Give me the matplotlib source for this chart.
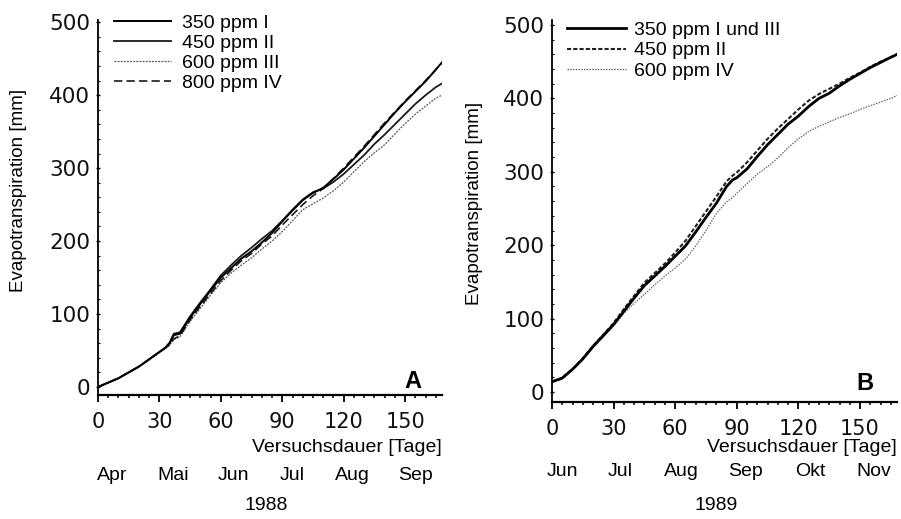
import numpy as np
import matplotlib
matplotlib.use("Agg")
import matplotlib.pyplot as plt
from matplotlib.ticker import MultipleLocator
from matplotlib.font_manager import FontProperties
import matplotlib.transforms as mtransforms

# --- data ---
days_a = [0, 5, 10, 15, 20, 25, 30, 33, 35, 37, 40, 45, 50, 55, 60, 65, 70, 75, 80,
          85, 90, 95, 100, 105, 110, 115, 120, 125, 130, 135, 140, 145, 150, 155,
          160, 165, 168]
a_350 = [0, 6, 12, 20, 28, 38, 48, 54, 60, 71, 73, 95, 114, 132, 150, 163, 176, 186, 198,
         211, 227, 242, 256, 266, 273, 285, 298, 313, 328, 344, 360, 376, 391, 405,
         419, 435, 445]
a_450 = [0, 6, 12, 20, 28, 38, 48, 54, 61, 73, 75, 97, 116, 134, 153, 167, 180, 191, 203,
         214, 228, 243, 257, 267, 272, 281, 292, 305, 318, 333, 346, 360, 374, 388,
         400, 411, 416]
a_600 = [0, 6, 12, 20, 28, 37, 47, 53, 57, 65, 69, 90, 108, 126, 143, 156, 167, 177, 189,
         200, 213, 228, 243, 251, 259, 269, 281, 295, 309, 321, 332, 347, 361, 374,
         385, 396, 400]
a_800 = [0, 6, 12, 20, 28, 38, 48, 54, 58, 66, 70, 92, 111, 128, 146, 160, 173, 183, 196,
         207, 222, 236, 250, 262, 272, 286, 300, 315, 330, 346, 362, 377, 392, 406,
         420, 435, 444]

days_b = [0, 5, 10, 15, 20, 25, 30, 35, 40, 45, 50, 55, 60, 65, 70, 75, 80, 85, 88, 90,
          95, 100, 105, 110, 115, 120, 125, 130, 135, 140, 145, 150, 155, 160, 165, 168]
b_350 = [14, 19, 31, 45, 62, 77, 92, 110, 128, 145, 158, 171, 185, 199, 218, 238, 257, 280,
         289, 292, 304, 321, 337, 351, 365, 376, 389, 400, 407, 417, 426, 434, 442, 449,
         456, 460]
b_450 = [14, 19, 31, 46, 63, 78, 94, 113, 131, 149, 162, 175, 190, 206, 226, 246, 266, 287,
         295, 299, 313, 329, 345, 359, 372, 385, 397, 406, 413, 420, 428, 435, 443, 450,
         456, 460]
b_600 = [14, 19, 31, 45, 61, 75, 90, 107, 121, 133, 146, 158, 169, 181, 199, 220, 243, 259,
         265, 271, 284, 297, 307, 319, 333, 345, 355, 362, 368, 374, 379, 385, 390, 395,
         400, 404]

months_a = ["Apr", "Mai", "Jun", "Jul", "Aug", "Sep"]
month_pos_a = [7, 36.5, 66, 95, 124, 155]
months_b = ["Jun", "Jul", "Aug", "Sep", "Okt", "Nov"]
month_pos_b = [5, 33, 63, 94, 126, 156.5]

W, H = 901, 519
TXT = "Liberation Sans"
legend_font = FontProperties(family=TXT, size=14)


def box(x0, y0, x1, y1):
    # pixel box (top-left origin) -> figure fraction rect
    return [x0 / W, 1 - y1 / H, (x1 - x0) / W, (y1 - y0) / H]


def style_axes(ax, ylim):
    ax.set_xlim(0, 168)
    ax.set_ylim(*ylim)
    for s in ["top", "right"]:
        ax.spines[s].set_visible(False)
    ax.spines["left"].set_linewidth(1.3)
    ax.spines["bottom"].set_linewidth(1.6)
    ax.xaxis.set_major_locator(MultipleLocator(30))
    ax.xaxis.set_minor_locator(MultipleLocator(5))
    ax.yaxis.set_major_locator(MultipleLocator(100))
    ax.yaxis.set_minor_locator(MultipleLocator(20))
    ax.tick_params(axis="x", which="major", direction="out", length=5, width=1.3,
                   pad=7, labelsize=15)
    ax.tick_params(axis="x", which="minor", direction="out", length=2.5, width=1.1)
    ax.tick_params(axis="y", which="major", direction="inout", length=3, width=1,
                   pad=4, labelsize=15.5)
    ax.tick_params(axis="y", which="minor", direction="in", length=1.5, width=0.8)
    for lab in ax.get_xticklabels() + ax.get_yticklabels():
        lab.set_family("DejaVu Sans")
        lab.set_color("#111111")


fig = plt.figure(figsize=(W / 100, H / 100), dpi=100)

# ---------------- panel A ----------------
ax1 = fig.add_axes(box(98, 20, 442, 395))
style_axes(ax1, (-11, 503))
ax1.plot(days_a, a_600, color="#555555", lw=0.9, ls=(0, (1.5, 1)), label="600 ppm III")
ax1.plot(days_a, a_450, color="#1a1a1a", lw=1.3, label="450 ppm II")
ax1.plot(days_a, a_800, color="#1a1a1a", lw=1.2, ls=(0, (5, 2.5)), label="800 ppm IV")
ax1.plot(days_a, a_350, color="black", lw=1.4, label="350 ppm I")
h, l = ax1.get_legend_handles_labels()
order = [3, 1, 0, 2]
ax1.legend([h[i] for i in order], [l[i] for i in order],
           loc="upper left", bbox_to_anchor=(114 / W, 1 - 14 / H),
           bbox_transform=fig.transFigure, frameon=False,
           prop=legend_font, handlelength=2.95, handletextpad=0.55,
           labelspacing=0.13, borderpad=0, borderaxespad=0)
ax1.set_ylabel("Evapotranspiration [mm]", family=TXT, fontsize=13.5)
ax1.yaxis.set_label_coords(-0.205, 0.545)
fig.text(413 / W, 1 - 382 / H, "A", ha="center", va="center", fontsize=17,
         fontweight="bold", family=TXT)

# ---------------- panel B ----------------
ax2 = fig.add_axes(box(552, 20, 897, 402))
style_axes(ax2, (-13.6, 506.8))
ax2.plot(days_b, b_600, color="#666666", lw=0.9, ls=(0, (1.2, 1)), label="600 ppm IV")
ax2.plot(days_b, b_450, color="#222222", lw=1.5, ls=(0, (2, 1)), label="450 ppm II")
ax2.plot(days_b, b_350, color="black", lw=2.0, label="350 ppm I und III")
h, l = ax2.get_legend_handles_labels()
order = [2, 1, 0]
ax2.legend([h[i] for i in order], [l[i] for i in order],
           loc="upper left", bbox_to_anchor=(567 / W, 1 - 21 / H),
           bbox_transform=fig.transFigure, frameon=False,
           prop=legend_font, handlelength=3.05, handletextpad=0.4,
           labelspacing=0.16, borderpad=0, borderaxespad=0)
ax2.set_ylabel("Evapotranspiration [mm]", family=TXT, fontsize=13.5)
ax2.yaxis.set_label_coords(-0.2, 0.52)
fig.text(865 / W, 1 - 383 / H, "B", ha="center", va="center", fontsize=17,
         fontweight="bold", family=TXT)

# x-axis captions, months and year
for ax, months, mpos, month_y, year, year_x in [
        (ax1, months_a, month_pos_a, 476, "1988", 266),
        (ax2, months_b, month_pos_b, 472, "1989", 716)]:
    ax.text(1.0, 1 - 448 / H, "Versuchsdauer [Tage]", ha="right", va="center",
            transform=mtransforms.blended_transform_factory(ax.transAxes, fig.transFigure),
            family=TXT, fontsize=14)
    trans = mtransforms.blended_transform_factory(ax.transData, fig.transFigure)
    for name, p in zip(months, mpos):
        ax.text(p, 1 - month_y / H, name, ha="center", va="center", transform=trans,
                family=TXT, fontsize=14, clip_on=False)
    fig.text(year_x / W, 1 - 506 / H, year, ha="center", va="center", family=TXT,
             fontsize=14)

fig.savefig("out.png", dpi=100)
